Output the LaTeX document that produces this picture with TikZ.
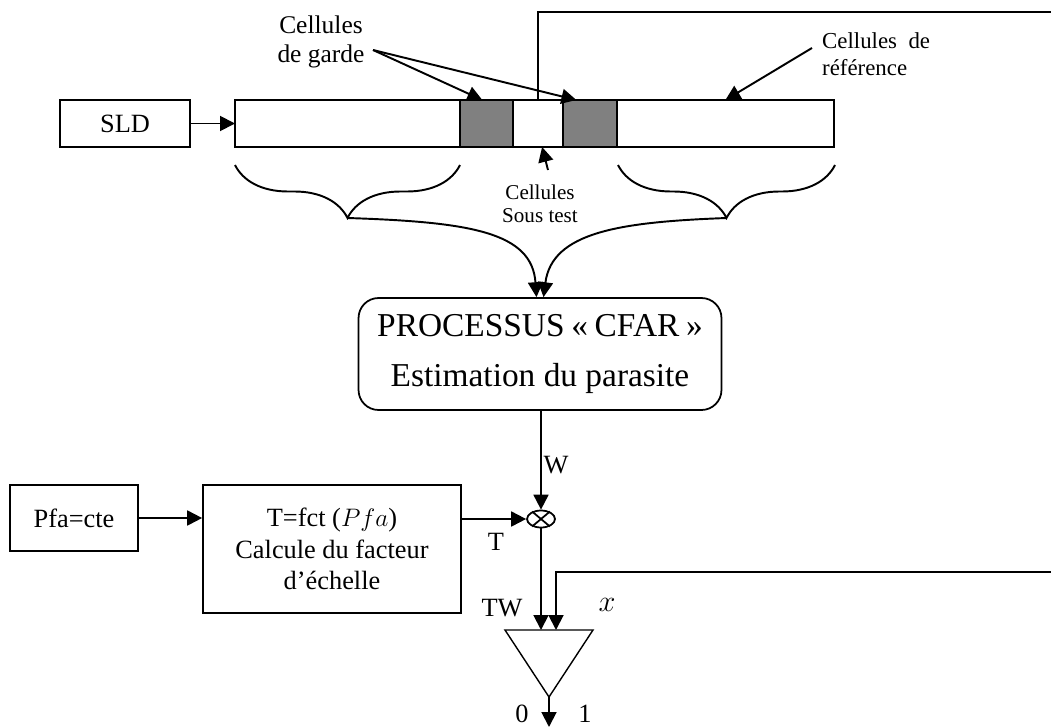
\documentclass[tikz,border=0pt]{standalone}
\usepackage{fontspec}
\setmainfont{Liberation Serif}
\usetikzlibrary{arrows.meta,decorations.pathreplacing,shapes.geometric}
\definecolor{gardegray}{RGB}{128,128,128}
\tikzset{
	fnt/.style = {font=\fontsize{15}{18}\selectfont},
	bloc/.style = {draw, line width=1pt, align=center, inner sep=0pt, fnt},
	cellule/.style = {draw, line width=0.75pt, minimum height=0.94cm, inner sep=0pt, outer sep=0pt, anchor=west},
	cellule_g/.style = {cellule, fill=gardegray},
	fleche/.style = {line width=1.1pt, -{Triangle[length=8.5pt,width=8.5pt]}},
	fil/.style = {line width=1.1pt},
	accolade/.style = {line width=1.1pt, decorate, decoration={brace, amplitude=1.06cm}}
}

\begin{document}
\begin{tikzpicture}[x=0.02cm, y=-0.02cm]
	\useasboundingbox (0,0) rectangle (1051,727);

	\node [bloc, minimum width=2.6cm, minimum height=0.94cm] (sld) at (125,123.5) {SLD};
	\node [cellule, minimum width=4.5cm] (refg) at (235,123.5) {};
	\node [cellule_g, minimum width=1.06cm] (gardeg) at (refg.east) {};
	\node [cellule, minimum width=1cm] (test) at (gardeg.east) {};
	\node [cellule_g, minimum width=1.08cm] (garded) at (test.east) {};
	\node [cellule, minimum width=4.34cm] (refd) at (garded.east) {};

	\node [align=center, font=\fontsize{14.5}{16.5}\selectfont] (garde) at (321,42) {Cellules\\de garde};
	\node [align=left, anchor=west, font=\fontsize{13}{15.5}\selectfont] (ref) at (816,54) {Cellules\ \ de\\référence};
	\node [align=center, font=\fontsize{12}{13}\selectfont] (sous) at (540,204) {Cellules\\Sous test};

	\node [bloc, rounded corners=0.4cm, minimum width=7.26cm, minimum height=2.24cm, font=\fontsize{19}{27}\selectfont] (cfar) at (540,354) {PROCESSUS\hspace{0.2em}«\hspace{0.2em}CFAR\hspace{0.2em}»\\[1pt]Estimation du parasite};
	\node [bloc, minimum width=2.56cm, minimum height=1.32cm] (pfa) at (74,518) {Pfa=cte};
	\node [bloc, minimum width=5.16cm, minimum height=2.56cm] (fct) at (332,549) {T=fct ($Pfa$)\\Calcule du facteur\\d’échelle};
	\node [draw, ellipse, line width=1pt, minimum width=0.56cm, minimum height=0.34cm, inner sep=0pt] (mul) at (541,519) {};
	\draw [line width=1pt] (mul.40) -- (mul.220) (mul.140) -- (mul.320);

	\coordinate (gq) at (373,50);
	\coordinate (rq) at (812,48);
	\coordinate (sq) at (548,170);
	\coordinate (pg) at (347.5,218);
	\coordinate (pd) at (726.5,218);
	\coordinate (fb1) at (1051,12);
	\coordinate (fb2) at (1051,572);
	\coordinate (cl) at (505,630);
	\coordinate (cr) at (593,630);
	\coordinate (co) at (549,697);
	\coordinate (ctw) at (541,630);
	\coordinate (cx) at (556,630);
	\coordinate (sortie) at (549,727);

	\draw [accolade] (460,165) -- (235,165);
	\draw [accolade] (835,165) -- (618,165);
	\draw [line width=0.8pt] (cl) -- (cr) -- (co) -- cycle;

	\draw [fleche] (sld) -- (refg);
	\draw [fleche] (gq) -- (gardeg.100);
	\draw [fleche] (gq) -- (garded.120);
	\draw [fleche] (rq) -- (refd.north);
	\draw [fleche] (sq) -- (test.-80);
	\draw [fleche] (pg) .. controls (470,222) and (532,232) .. ([xshift=-2pt]cfar.north);
	\draw [fleche] (pd) .. controls (620,222) and (552,232) .. ([xshift=2pt]cfar.north);
	\draw [fil] (test.north) |- (fb1);
	\draw [fleche] (cfar.south -| mul) -- (mul);
	\draw [fleche] (pfa.east) -- (pfa.east -| fct.west);
	\draw [fleche] (fct.east |- mul) -- (mul);
	\draw [fleche] (mul) -- (ctw);
	\draw [fleche] (fb2) -| (cx);
	\draw [fleche] (co) -- (sortie);

	\node [fnt] (lw) at (556,465) {W};
	\node [fnt] (lt) at (496,542) {T};
	\node [fnt] (ltw) at (502,608) {TW};
	\node [font=\fontsize{18}{18}\selectfont] (lx) at (607,605) {$x$};
	\node [fnt] (l0) at (522,714) {0};
	\node [fnt] (l1) at (585,714) {1};
\end{tikzpicture}
\end{document}
